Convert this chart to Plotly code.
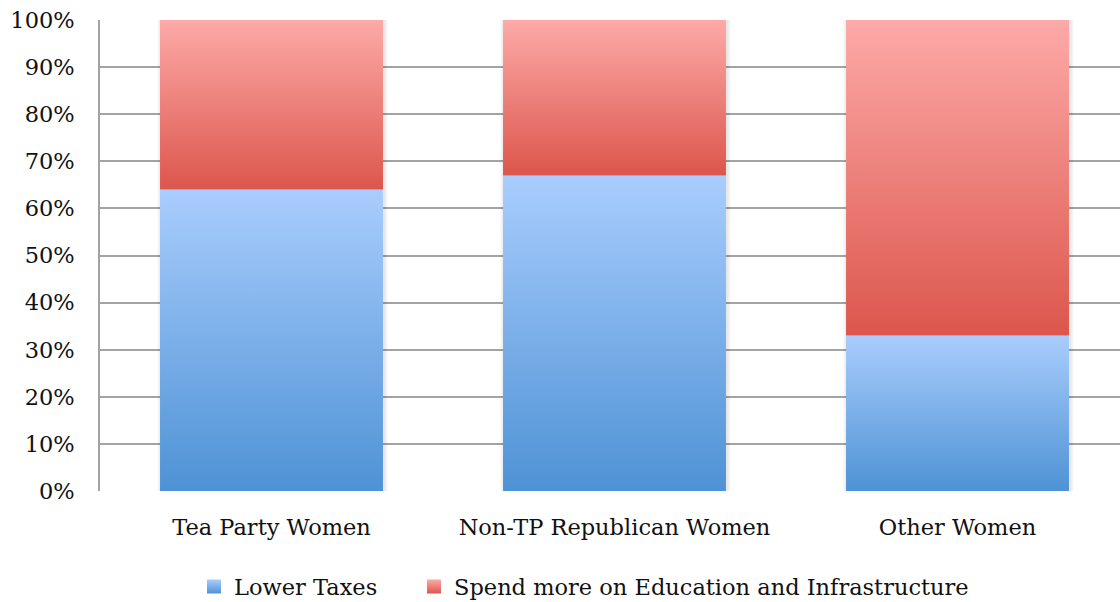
import plotly.graph_objects as go

# Survey shares (percent of respondents) per group
categories = ["Tea Party Women", "Non-TP Republican Women", "Other Women"]
lower_taxes = [64, 67, 33]
spend_more = [36, 33, 67]
series_names = ["Lower Taxes", "Spend more on Education and Infrastructure"]
y_tick_values = [0, 10, 20, 30, 40, 50, 60, 70, 80, 90, 100]
y_tick_labels = [f"{v}%" for v in y_tick_values]

# Styling
FONT = "DejaVu Serif"
TEXT = "#111111"
GRID = "#a3a3a3"
BLUE_TOP, BLUE_BOTTOM = "#a9cdfd", "#4e92d5"
RED_TOP, RED_BOTTOM = "#fdaaa8", "#dc564c"
BAR_WIDTH = 0.65
PX = 1 / 343.0  # one pixel in category units

fig = go.Figure()


def rect(cx, half, y0, y1):
    return [cx - half, cx + half, cx + half, cx - half, cx - half], [y0, y0, y1, y1, y0]


# soft drop shadow around each column
for i, (a, b) in enumerate(zip(lower_taxes, spend_more)):
    for k in range(1, 5):
        xs, ys = rect(i + 1.0 * PX, BAR_WIDTH / 2 + k * PX, 0, a + b)
        fig.add_trace(go.Scatter(
            x=xs, y=ys, fill="toself", mode="lines", line=dict(width=0),
            fillcolor="rgba(0,0,0,0.022)", hoverinfo="skip", showlegend=False))

# stacked segments with vertical gradients
for i, (a, b) in enumerate(zip(lower_taxes, spend_more)):
    for (y0, y1, top, bottom, name) in [
        (0, a, BLUE_TOP, BLUE_BOTTOM, series_names[0]),
        (a, a + b, RED_TOP, RED_BOTTOM, series_names[1]),
    ]:
        xs, ys = rect(i, BAR_WIDTH / 2, y0, y1)
        fig.add_trace(go.Scatter(
            x=xs, y=ys, fill="toself", mode="lines", line=dict(width=0),
            fillcolor=top,
            fillgradient=dict(type="vertical", colorscale=[[0, bottom], [1, top]]),
            name=name, legendgroup=name, showlegend=False,
            hovertemplate=f"{categories[i]}<br>{name}: {y1 - y0}%<extra></extra>"))

# legend swatches
for j, (name, top, bottom) in enumerate([
    (series_names[0], BLUE_TOP, BLUE_BOTTOM),
    (series_names[1], RED_TOP, RED_BOTTOM),
]):
    fig.add_trace(go.Scatter(
        x=[None], y=[None], mode="markers", name=name, legendgroup=name,
        legendwidth=175 if j == 0 else None,
        marker=dict(symbol="square", size=14, color=top, line=dict(width=0),
                    gradient=dict(type="vertical", color=bottom))))

fig.update_layout(
    width=1120, height=602,
    margin=dict(l=100, r=0, t=20, b=111),
    paper_bgcolor="white", plot_bgcolor="white",
    font=dict(family=FONT, size=22.5, color=TEXT),
    showlegend=True,
    legend=dict(orientation="h", xref="container", yref="container",
                x=194 / 1120, y=0.025, xanchor="left", yanchor="middle",
                font=dict(size=22.5), itemwidth=30, traceorder="normal"),
)
fig.update_xaxes(
    range=[-0.5, -0.5 + 1020 * PX], tickvals=list(range(len(categories))),
    ticktext=categories, showgrid=False, zeroline=False, showline=False,
    ticks="", ticklabelstandoff=20, fixedrange=True)
fig.update_yaxes(
    range=[0, 100], tickvals=y_tick_values, ticktext=y_tick_labels,
    showgrid=True, gridcolor=GRID, gridwidth=1.6, zeroline=False,
    showline=True, linecolor=GRID, linewidth=1.6, ticks="",
    ticklabelstandoff=19, fixedrange=True)

fig.write_html("out.html")
